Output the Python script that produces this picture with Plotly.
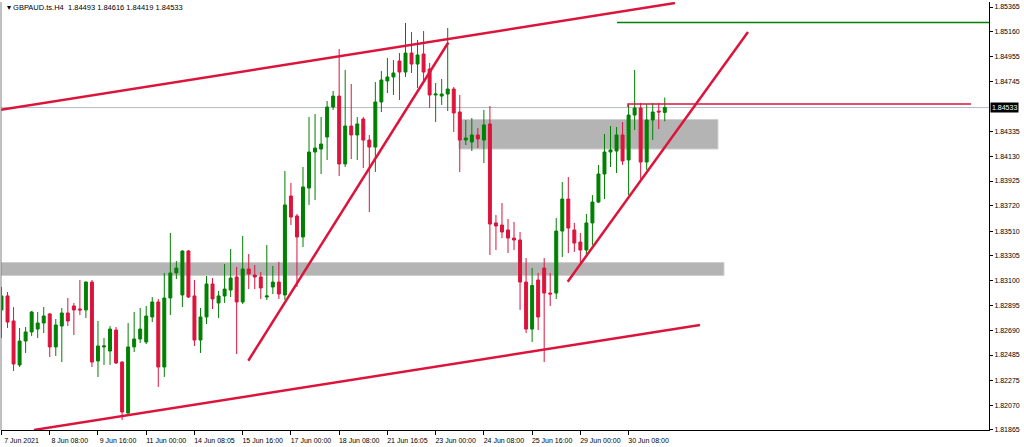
import plotly.graph_objects as go

# ---------------- data ----------------
opens = [1.82858, 1.82974, 1.82767, 1.82403, 1.82601, 1.82676, 1.82700, 1.82750, 1.82825, 1.82552,
         1.82725, 1.82833, 1.82891, 1.82866, 1.82858, 1.83089, 1.82436, 1.82552, 1.82518, 1.82692,
         1.82427, 1.82005, 1.82552, 1.82618, 1.82593, 1.82800, 1.82924, 1.82386, 1.82957, 1.83164,
         1.82982, 1.83346, 1.82974, 1.82609, 1.82800, 1.83073, 1.82916, 1.82974, 1.83023, 1.83131,
         1.82924, 1.83197, 1.83147, 1.83131, 1.82965, 1.83048, 1.83089, 1.82982, 1.83801, 1.83636,
         1.83462, 1.83867, 1.84165, 1.84190, 1.84289, 1.84537, 1.84628, 1.84066, 1.84380, 1.84306,
         1.84438, 1.84264, 1.84206, 1.84579, 1.84753, 1.84786, 1.84918, 1.84827, 1.84984, 1.84893,
         1.84976, 1.84852, 1.84637, 1.84628, 1.84645, 1.84686, 1.84496, 1.84264, 1.84248, 1.84306,
         1.84264, 1.84397, 1.83578, 1.83561, 1.83520, 1.83453, 1.83437, 1.83089, 1.82700, 1.83106,
         1.83205, 1.82998, 1.82998, 1.83511, 1.83776, 1.83520, 1.83420, 1.83354, 1.83578, 1.83751,
         1.83983, 1.84165, 1.84173, 1.84306, 1.84099, 1.84471, 1.84529, 1.84082, 1.84430, 1.84504,
         1.84493]
highs = [1.83048, 1.83007, 1.82882, 1.82709, 1.82717, 1.82850, 1.82841, 1.82882, 1.82833, 1.82783,
         1.82874, 1.82957, 1.82916, 1.83106, 1.83095, 1.83106, 1.82767, 1.82626, 1.82725, 1.82717,
         1.82435, 1.82750, 1.82841, 1.82874, 1.82891, 1.82965, 1.82949, 1.83164, 1.83495, 1.83263,
         1.83350, 1.83354, 1.83106, 1.82874, 1.83139, 1.83122, 1.83015, 1.83238, 1.83362, 1.83214,
         1.83470, 1.83321, 1.83230, 1.83172, 1.83396, 1.83222, 1.83255, 1.84008, 1.83909, 1.83652,
         1.84041, 1.84455, 1.84480, 1.84455, 1.84587, 1.84670, 1.85017, 1.84844, 1.84728, 1.84455,
         1.84455, 1.84306, 1.84744, 1.84835, 1.84943, 1.84926, 1.84984, 1.85233, 1.85158, 1.85092,
         1.85166, 1.84902, 1.84736, 1.84769, 1.85191, 1.84703, 1.84637, 1.84430, 1.84446, 1.84364,
         1.84513, 1.84546, 1.83644, 1.83743, 1.83611, 1.83586, 1.83503, 1.83288, 1.83205, 1.83164,
         1.83288, 1.83164, 1.83619, 1.83917, 1.83958, 1.83578, 1.83495, 1.83652, 1.83809, 1.84058,
         1.84314, 1.84380, 1.84372, 1.84413, 1.84554, 1.84844, 1.84571, 1.84562, 1.84571, 1.84571,
         1.84616]
lows = [1.82626, 1.82709, 1.82353, 1.82386, 1.82502, 1.82642, 1.82626, 1.82667, 1.82469, 1.82477,
        1.82427, 1.82725, 1.82651, 1.82816, 1.82791, 1.82386, 1.82303, 1.82403, 1.82403, 1.82411,
        1.81947, 1.81989, 1.82510, 1.82585, 1.82576, 1.82758, 1.82221, 1.82303, 1.82816, 1.83114,
        1.82882, 1.82957, 1.82560, 1.82502, 1.82742, 1.82866, 1.82791, 1.82916, 1.82965, 1.82494,
        1.82907, 1.83031, 1.83031, 1.82949, 1.82940, 1.82990, 1.82949, 1.82940, 1.83561, 1.83048,
        1.83379, 1.83727, 1.83768, 1.83983, 1.84099, 1.84513, 1.83967, 1.84041, 1.84107, 1.84099,
        1.84033, 1.83669, 1.84000, 1.84496, 1.84653, 1.84637, 1.84595, 1.84786, 1.84819, 1.84695,
        1.84744, 1.84529, 1.84413, 1.84554, 1.84504, 1.84331, 1.84000, 1.84223, 1.84173, 1.84198,
        1.84074, 1.83313, 1.83354, 1.83453, 1.83329, 1.83354, 1.82858, 1.82667, 1.82593, 1.82692,
        1.82427, 1.82891, 1.82949, 1.83296, 1.83329, 1.83338, 1.83247, 1.83313, 1.83396, 1.83743,
        1.83776, 1.84041, 1.83991, 1.84058, 1.83809, 1.84347, 1.83942, 1.84016, 1.84264, 1.84355,
        1.84419]
closes = [1.82974, 1.82758, 1.82411, 1.82601, 1.82676, 1.82841, 1.82750, 1.82808, 1.82552, 1.82734,
          1.82833, 1.82767, 1.82858, 1.82858, 1.83089, 1.82427, 1.82560, 1.82560, 1.82700, 1.82419,
          1.82014, 1.82552, 1.82618, 1.82700, 1.82808, 1.82924, 1.82386, 1.82957, 1.83164, 1.83205,
          1.83346, 1.82965, 1.82609, 1.82800, 1.83073, 1.82949, 1.82974, 1.83031, 1.83122, 1.82924,
          1.83197, 1.83156, 1.83131, 1.83040, 1.82974, 1.83089, 1.82990, 1.83727, 1.83627, 1.83462,
          1.83876, 1.84165, 1.84198, 1.84231, 1.84537, 1.84628, 1.84066, 1.84380, 1.84306, 1.84397,
          1.84264, 1.84206, 1.84579, 1.84761, 1.84786, 1.84819, 1.84827, 1.84984, 1.84893, 1.84968,
          1.84827, 1.84637, 1.84645, 1.84645, 1.84686, 1.84488, 1.84264, 1.84281, 1.84306, 1.84273,
          1.84389, 1.83569, 1.83553, 1.83503, 1.83453, 1.83437, 1.83089, 1.82700, 1.83060, 1.82800,
          1.82998, 1.82990, 1.83511, 1.83776, 1.83536, 1.83412, 1.83354, 1.83578, 1.83751, 1.83983,
          1.84165, 1.84182, 1.84306, 1.84091, 1.84471, 1.84529, 1.84082, 1.84430, 1.84496, 1.84496,
          1.84533]

# x-axis time labels (bar index -> label)
tick_bars = [0, 8, 16, 24, 32, 40, 48, 56, 64, 72, 80, 88, 96, 104]
tick_labels = ["7 Jun 2021", "8 Jun 08:00", "9 Jun 16:00", "11 Jun 00:00", "14 Jun 08:05",
               "15 Jun 16:00", "17 Jun 00:00", "18 Jun 08:00", "21 Jun 16:05", "23 Jun 00:00",
               "24 Jun 08:00", "25 Jun 16:00", "29 Jun 00:00", "30 Jun 08:00"]

# price-axis labels
price_ticks = [1.85365, 1.85160, 1.84955, 1.84745, 1.84335, 1.84130, 1.83925, 1.83720, 1.83510,
               1.83305, 1.83100, 1.82895, 1.82690, 1.82485, 1.82275, 1.82070, 1.81865]
price_labels = ["%.5f" % v for v in price_ticks]

current_price = 1.84533
title_text = "GBPAUD.ts.H4  1.84493 1.84616 1.84419 1.84533"

# drawn objects: (bar0, price0, bar1, price1)
channel_lines = [(-0.25, 1.84513, 111.69, 1.85398),
                 (5.39, 1.81865, 115.84, 1.82734),
                 (40.93, 1.82438, 74.10, 1.85071),
                 (93.90, 1.83092, 123.80, 1.85158)]
green_level = (102.07, 1.85237)
red_level = (103.9, 160.8, 1.84562, 1.84537)
zones = [(75.87, 118.82, 1.84190, 1.84434),
         (-1.0, 119.82, 1.83143, 1.83251)]

x_range = [-0.083, 163.77]
y_range = [1.818647, 1.854064]

# ---------------- figure ----------------
bars = list(range(len(opens)))
fig = go.Figure()
fig.add_trace(go.Candlestick(
    x=bars, open=opens, high=highs, low=lows, close=closes,
    increasing=dict(line=dict(color="#008000", width=1), fillcolor="#008000"),
    decreasing=dict(line=dict(color="#DC143C", width=1), fillcolor="#DC143C"),
    whiskerwidth=0, showlegend=False, hoverinfo="x+y"))

shapes = []
for x0, x1, p0, p1 in zones:
    shapes.append(dict(type="rect", xref="x", yref="y", x0=x0, x1=x1, y0=p0, y1=p1,
                       fillcolor="#B4B4B4", line=dict(color="#CFCFCF", width=1), layer="below"))
shapes.append(dict(type="line", xref="paper", yref="y", x0=0, x1=1, y0=current_price, y1=current_price,
                   line=dict(color="#B4BCC4", width=1), layer="below"))
for x0, p0, x1, p1 in channel_lines:
    shapes.append(dict(type="line", xref="x", yref="y", x0=x0, y0=p0, x1=x1, y1=p1,
                       line=dict(color="#DC143C", width=2.5)))
shapes.append(dict(type="line", xref="x", yref="y", x0=green_level[0], x1=x_range[1],
                   y0=green_level[1], y1=green_level[1], line=dict(color="#008000", width=1.5)))
rx0, rx1, rp, rp2 = red_level
shapes.append(dict(type="path", xref="x", yref="y",
                   path=f"M {rx0},{rp2} L {rx0},{rp} L {rx1},{rp}",
                   line=dict(color="#DC143C", width=1.5)))
shapes.append(dict(type="line", xref="paper", yref="paper", x0=0, x1=0, y0=0, y1=1,
                   line=dict(color="#808080", width=1)))

fig.update_layout(
    width=1024, height=447,
    margin=dict(l=1, r=35, t=2, b=17, autoexpand=False),
    plot_bgcolor="white", paper_bgcolor="white",
    boxgap=0.3,
    font=dict(family="Liberation Sans, Arial, sans-serif", size=7, color="black"),
    shapes=shapes,
    xaxis=dict(range=x_range, showgrid=False, zeroline=False, showline=True, linecolor="black",
               linewidth=1, ticks="outside", ticklen=4, tickcolor="black", tickvals=tick_bars,
               ticktext=tick_labels, tickfont=dict(size=7), ticklabelshift=20,
               rangeslider=dict(visible=False), fixedrange=True),
    yaxis=dict(range=y_range, side="right", showgrid=False, zeroline=False, showline=True,
               linecolor="black", linewidth=1, ticks="outside", ticklen=3, tickcolor="black",
               tickvals=price_ticks, ticktext=price_labels, tickfont=dict(size=7),
               fixedrange=True),
    annotations=[
        dict(xref="paper", yref="y", x=1, y=current_price, xanchor="left", yanchor="middle",
             text="%.5f" % current_price, showarrow=False, bgcolor="black",
             font=dict(color="white", size=7), borderpad=1, xshift=1),
        dict(xref="paper", yref="paper", x=0.004, y=0.986, xanchor="left", yanchor="middle",
             text="\u25BE " + title_text, showarrow=False, font=dict(size=7.5, color="black")),
    ],
)

fig.write_html("out.html", config={"displayModeBar": False},
               post_script="document.body.style.margin='0';document.body.style.overflow='hidden';")
